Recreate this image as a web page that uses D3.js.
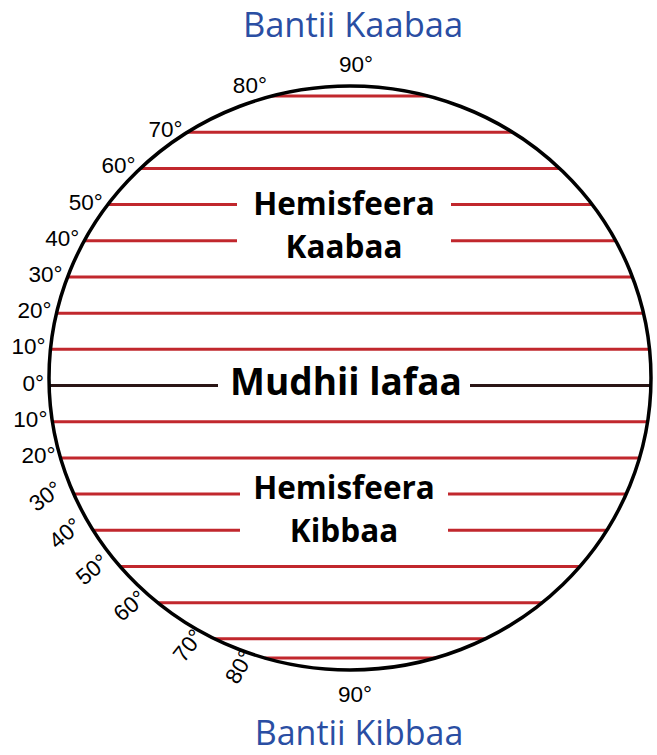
<!DOCTYPE html>
<html>
<head>
<meta charset="utf-8">
<script src="https://cdn.jsdelivr.net/npm/d3@7"></script>
<style>
  body { margin: 0; background: #fff; }
  svg { display: block; }
</style>
</head>
<body>
<svg id="chart" width="657" height="755"></svg>
<script>
// latitude lines (the 80°S line is squeezed in above the rim, as in the source drawing)
var lineLat   = [80, 70, 60, 50, 40, 30, 20, 10, 0, -10, -20, -30, -40, -50, -60, -70, -75.3];
var lineLabel = ['80°','70°','60°','50°','40°','30°','20°','10°','0°','10°','20°','30°','40°','50°','60°','70°','80°'];
// tilt of the southern labels, degrees (0 = upright)
var labelTilt = [0, 0, 0, 0, 0, 0, 0, 0, 0, 0, 0, -37, -40, -40, -40, -52, -60];
// rows that are broken to leave room for a caption: latitude -> half width of the gap
var gapLat  = [50, 40, 0, -30, -40];
var gapHalf = [107, 107, 126, 104, 104];

var poleLabels  = ['Bantii Kaabaa', 'Bantii Kibbaa'];
var hemiNorth   = ['Hemisfeera', 'Kaabaa'];
var hemiSouth   = ['Hemisfeera', 'Kibbaa'];
var equatorName = 'Mudhii lafaa';

var svg = d3.select('#chart');

// globe outline
var globe = {cx: 350, cy: 378, rx: 301, ry: 292};
var y = d3.scaleLinear().domain([0, 80]).range([385.5, 96]);
var gapX = 344;

function halfWidth(yy) {
    var t = (yy - globe.cy) / globe.ry;
    return globe.rx * Math.sqrt(Math.max(0, 1 - t * t));
}

var rows = lineLat.map(function(lat, i) {
    var yy = y(lat);
    var hw = halfWidth(yy);
    var gi = gapLat.indexOf(lat);
    return {
        lat: lat, label: lineLabel[i], tilt: labelTilt[i], y: yy,
        x0: globe.cx - hw, x1: globe.cx + hw,
        gap: gi >= 0 ? gapHalf[gi] : 0
    };
});

// segments: split rows with a caption gap
var segs = [];
rows.forEach(function(r) {
    if (r.gap > 0) {
        segs.push({r: r, a: r.x0, b: gapX - r.gap});
        segs.push({r: r, a: gapX + r.gap, b: r.x1});
    } else {
        segs.push({r: r, a: r.x0, b: r.x1});
    }
});

svg.append('g').selectAll('line')
    .data(segs)
    .enter().append('line')
    .attr('x1', function(d) { return d.a; })
    .attr('x2', function(d) { return d.b; })
    .attr('y1', function(d) { return d.r.y; })
    .attr('y2', function(d) { return d.r.y; })
    .attr('stroke', function(d) { return d.r.lat === 0 ? '#2a1616' : '#c1272d'; })
    .attr('stroke-width', 3);

svg.append('ellipse')
    .attr('cx', globe.cx).attr('cy', globe.cy)
    .attr('rx', globe.rx).attr('ry', globe.ry)
    .attr('fill', 'none')
    .attr('stroke', '#000')
    .attr('stroke-width', 3.5);

// degree labels on the left rim
var degFont = '"Liberation Sans", Arial, sans-serif';
svg.append('g').selectAll('text')
    .data(rows)
    .enter().append('text')
    .attr('transform', function(d) {
        if (d.tilt) return 'translate(' + [d.x0 - 10, d.y - 2] + ') rotate(' + d.tilt + ')';
        var dy = d.lat === 80 ? -3 : 5;
        return 'translate(' + [d.x0 - 5, d.y + dy] + ')';
    })
    .attr('text-anchor', 'end')
    .style('font-family', degFont)
    .style('font-size', '22.5px')
    .attr('fill', '#000')
    .text(function(d) { return d.label; });

// poles
svg.append('text').attr('x', 356).attr('y', 72)
    .attr('text-anchor', 'middle')
    .style('font-family', degFont).style('font-size', '22.5px')
    .text('90°');
svg.append('text').attr('x', 355).attr('y', 702)
    .attr('text-anchor', 'middle')
    .style('font-family', degFont).style('font-size', '22.5px')
    .text('90°');

var titleFont = '"Open Sans", "Noto Sans", sans-serif';
svg.append('text').attr('x', 353).attr('y', 37)
    .attr('text-anchor', 'middle')
    .style('font-family', titleFont).style('font-size', '34.5px')
    .attr('fill', '#2a4ea3')
    .text(poleLabels[0]);
svg.append('text').attr('x', 359).attr('y', 745)
    .attr('text-anchor', 'middle')
    .style('font-family', titleFont).style('font-size', '34px')
    .attr('fill', '#2a4ea3')
    .text(poleLabels[1]);

// hemisphere captions
function caption(lines, baselines) {
    svg.append('g').selectAll('text')
        .data(lines)
        .enter().append('text')
        .attr('x', gapX)
        .attr('y', function(d, i) { return baselines[i]; })
        .attr('text-anchor', 'middle')
        .style('font-family', titleFont)
        .style('font-weight', 700)
        .style('font-size', '31.5px')
        .attr('fill', '#000')
        .text(function(d) { return d; });
}
caption(hemiNorth, [215, 258]);
caption(hemiSouth, [499, 542]);

svg.append('text').attr('x', 346).attr('y', 395)
    .attr('text-anchor', 'middle')
    .style('font-family', titleFont)
    .style('font-weight', 700)
    .style('font-size', '37px')
    .text(equatorName);
</script>
</body>
</html>
